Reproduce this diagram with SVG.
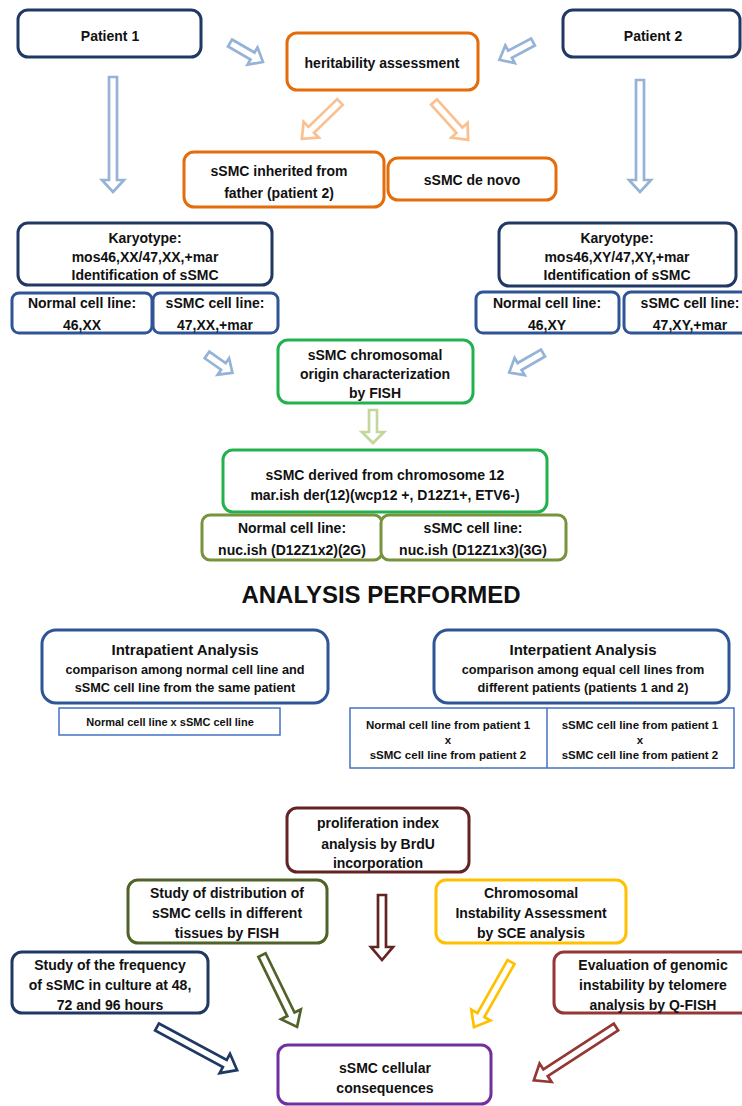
<svg xmlns="http://www.w3.org/2000/svg" width="742" height="1106" viewBox="0 0 742 1106">
<style>
text{font-family:"Liberation Sans",Arial,sans-serif;font-weight:bold;fill:#111;text-anchor:middle}
.t14{font-size:14px}
.t13{font-size:12.7px}
.t11{font-size:11.5px}
.bx{fill:#fff;stroke-width:3}
.navy{stroke:#1f3864}
.blue{stroke:#2f5597}
.org{stroke:#e46c0a}
.grn{stroke:#22b14c}
.olv{stroke:#77933c}
.olv2{stroke:#4f6228}
.mar{stroke:#632523}
.mar2{stroke:#953735}
.gold{stroke:#ffc000}
.pur{stroke:#7030a0}
.tbl{fill:#fff;stroke:#4472c4;stroke-width:1.5}
.ar{fill:#fff;stroke-width:2.7;stroke-linejoin:miter}
.alb{stroke:#95b3d7}
.alo{stroke:#fac090}
.alg{stroke:#c3d69b}
</style>
<rect width="742" height="1106" fill="#fff"/>

<g id="connectors">
  <polygon class="ar alb" transform="translate(230,43) rotate(30)" points="0,-4 26,-4 26,-10 38,0 26,10 26,4 0,4"/>
  <polygon class="ar alb" transform="translate(533,42) rotate(152)" points="0,-4 26,-4 26,-10 38,0 26,10 26,4 0,4"/>
  <polygon class="ar alb" transform="translate(113,77) rotate(90)" points="0,-4 103,-4 103,-11 115,0 103,11 103,4 0,4"/>
  <polygon class="ar alb" transform="translate(640,80) rotate(90)" points="0,-4 100,-4 100,-11 112,0 100,11 100,4 0,4"/>
  <polygon class="ar alo" transform="translate(340,102) rotate(136)" points="0,-4 40,-4 40,-11 53,0 40,11 40,4 0,4"/>
  <polygon class="ar alo" transform="translate(434,102) rotate(48)" points="0,-4 38,-4 38,-11 51,0 38,11 38,4 0,4"/>
  <polygon class="ar alb" transform="translate(207,355) rotate(35)" points="0,-4 20,-4 20,-10 31,0 20,10 20,4 0,4"/>
  <polygon class="ar alb" transform="translate(543,353) rotate(150)" points="0,-4 27,-4 27,-10 39,0 27,10 27,4 0,4"/>
  <polygon class="ar alg" transform="translate(373,410) rotate(90)" points="0,-4 22,-4 22,-11 33,0 22,11 22,4 0,4"/>
  <polygon class="ar mar" transform="translate(382,895) rotate(90)" points="0,-4 52,-4 52,-11 65,0 52,11 52,4 0,4"/>
  <polygon class="ar olv2" transform="translate(262,955) rotate(64)" points="0,-4 66,-4 66,-11 80,0 66,11 66,4 0,4"/>
  <polygon class="ar navy" transform="translate(157,1027) rotate(28.3)" points="0,-4 77,-4 77,-11 91,0 77,11 77,4 0,4"/>
  <polygon class="ar gold" transform="translate(511,962) rotate(119.6)" points="0,-4 61,-4 61,-11 75,0 61,11 61,4 0,4"/>
  <polygon class="ar mar2" transform="translate(616,1027) rotate(147)" points="0,-4 84,-4 84,-11 98,0 84,11 84,4 0,4"/>
</g>

<g id="patient1"><rect class="bx navy" x="18" y="10" width="183" height="47" rx="10"/><text class="t14" x="110" y="41">Patient 1</text></g>
<g id="patient2"><rect class="bx navy" x="563" y="10" width="177" height="47" rx="10"/><text class="t14" x="653" y="41">Patient 2</text></g>
<g id="heritability"><rect class="bx org" x="287" y="33" width="191" height="57" rx="10"/><text class="t14" x="382" y="68">heritability assessment</text></g>
<g id="inherited"><rect class="bx org" x="184" y="152" width="200" height="55" rx="10"/><text class="t14" x="279" y="176">sSMC inherited from</text><text class="t14" x="279" y="198">father (patient 2)</text></g>
<g id="denovo"><rect class="bx org" x="388" y="158" width="168" height="42" rx="10"/><text class="t14" x="472" y="185">sSMC de novo</text></g>

<g id="karyo1"><rect class="bx navy" x="18" y="223" width="254" height="62" rx="10"/>
<text class="t14" x="145" y="243">Karyotype:</text><text class="t14" x="145" y="262">mos46,XX/47,XX,+mar</text><text class="t14" x="145" y="280">Identification of sSMC</text></g>
<g id="normal1"><rect class="bx blue" x="12" y="293" width="140" height="40" rx="7"/><text class="t14" x="82" y="308">Normal cell line:</text><text class="t14" x="82" y="330">46,XX</text></g>
<g id="ssmc1"><rect class="bx blue" x="153" y="293" width="125" height="40" rx="7"/><text class="t14" x="215" y="308">sSMC cell line:</text><text class="t14" x="215" y="330">47,XX,+mar</text></g>

<g id="karyo2"><rect class="bx navy" x="499" y="223" width="237" height="63" rx="10"/>
<text class="t14" x="617" y="243">Karyotype:</text><text class="t14" x="617" y="262">mos46,XY/47,XY,+mar</text><text class="t14" x="617" y="280">Identification of sSMC</text></g>
<g id="normal2"><rect class="bx blue" x="476" y="292" width="143" height="41" rx="7"/><text class="t14" x="547" y="308">Normal cell line:</text><text class="t14" x="547" y="330">46,XY</text></g>
<g id="ssmc2"><rect class="bx blue" x="624" y="292" width="130" height="41" rx="7"/><text class="t14" x="690" y="308">sSMC cell line:</text><text class="t14" x="690" y="330">47,XY,+mar</text></g>

<g id="fish"><rect class="bx grn" x="278" y="340" width="195" height="63" rx="10"/>
<text class="t14" x="375" y="360">sSMC chromosomal</text><text class="t14" x="375" y="379">origin characterization</text><text class="t14" x="375" y="398">by FISH</text></g>
<g id="derived"><rect class="bx grn" x="223" y="450" width="324" height="62" rx="10"/>
<text class="t14" x="385" y="480">sSMC derived from chromosome 12</text><text class="t14" x="385" y="500">mar.ish der(12)(wcp12 +, D12Z1+, ETV6-)</text></g>
<g id="nucnormal"><rect class="bx olv" x="202" y="515" width="180" height="45" rx="8"/>
<text class="t14" x="292" y="533">Normal cell line:</text><text class="t14" x="292" y="555">nuc.ish (D12Z1x2)(2G)</text></g>
<g id="nucssmc"><rect class="bx olv" x="381" y="515" width="185" height="45" rx="8"/>
<text class="t14" x="473" y="533">sSMC cell line:</text><text class="t14" x="473" y="555">nuc.ish (D12Z1x3)(3G)</text></g>

<text id="heading" x="381" y="603" style="font-size:24px">ANALYSIS PERFORMED</text>

<g id="intra"><rect class="bx blue" x="42" y="630" width="286" height="73" rx="14"/>
<text x="185" y="655" style="font-size:15px">Intrapatient Analysis</text>
<text class="t13" x="185" y="674">comparison among normal cell line and</text>
<text class="t13" x="185" y="692">sSMC cell line from the same patient</text></g>
<g id="intratable"><rect class="tbl" x="59" y="708" width="221" height="27"/><text x="170" y="726" style="font-size:11px">Normal cell line x sSMC cell line</text></g>

<g id="inter"><rect class="bx blue" x="434" y="630" width="295" height="73" rx="14"/>
<text x="583" y="655" style="font-size:15px">Interpatient Analysis</text>
<text class="t13" x="583" y="674">comparison  among equal cell  lines from</text>
<text class="t13" x="583" y="692">different patients  (patients 1 and 2)</text></g>
<g id="intertable"><rect class="tbl" x="350" y="708" width="384" height="60"/><line x1="547" y1="708" x2="547" y2="768" stroke="#4472c4" stroke-width="1.5"/>
<text class="t11" x="448" y="729">Normal cell line from patient 1</text><text class="t11" x="448" y="744">x</text><text class="t11" x="448" y="759">sSMC cell line from patient  2</text>
<text class="t11" x="640" y="729">sSMC cell line from patient 1</text><text class="t11" x="640" y="744">x</text><text class="t11" x="640" y="759">sSMC cell line from patient  2</text></g>

<g id="prolif"><rect class="bx mar" x="287" y="808" width="182" height="64" rx="10"/>
<text class="t14" x="378" y="828">proliferation index</text><text class="t14" x="378" y="849">analysis by BrdU</text><text class="t14" x="378" y="868">incorporation</text></g>
<g id="distrib"><rect class="bx olv2" x="128" y="880" width="199" height="63" rx="10"/>
<text class="t14" x="227" y="898">Study of distribution of</text><text class="t14" x="227" y="918">sSMC cells in different</text><text class="t14" x="227" y="938">tissues by FISH</text></g>
<g id="sce"><rect class="bx gold" x="436" y="880" width="190" height="63" rx="10"/>
<text class="t14" x="531" y="898">Chromosomal</text><text class="t14" x="531" y="918">Instability Assessment</text><text class="t14" x="531" y="938">by SCE analysis</text></g>
<g id="freq"><rect class="bx navy" x="12" y="952" width="196" height="61" rx="10"/>
<text class="t14" x="110" y="970">Study of the frequency</text><text class="t14" x="110" y="990">of sSMC in culture at 48,</text><text class="t14" x="110" y="1010">72 and 96 hours</text></g>
<g id="telomere"><rect class="bx mar2" x="554" y="952" width="200" height="61" rx="10"/>
<text class="t14" x="653" y="970">Evaluation of genomic</text><text class="t14" x="653" y="990">instability by telomere</text><text class="t14" x="653" y="1010">analysis by Q-FISH</text></g>
<g id="consequences"><rect class="bx pur" x="278" y="1045" width="213" height="59" rx="10"/>
<text class="t14" x="385" y="1073">sSMC cellular</text><text class="t14" x="385" y="1093">consequences</text></g>
</svg>
